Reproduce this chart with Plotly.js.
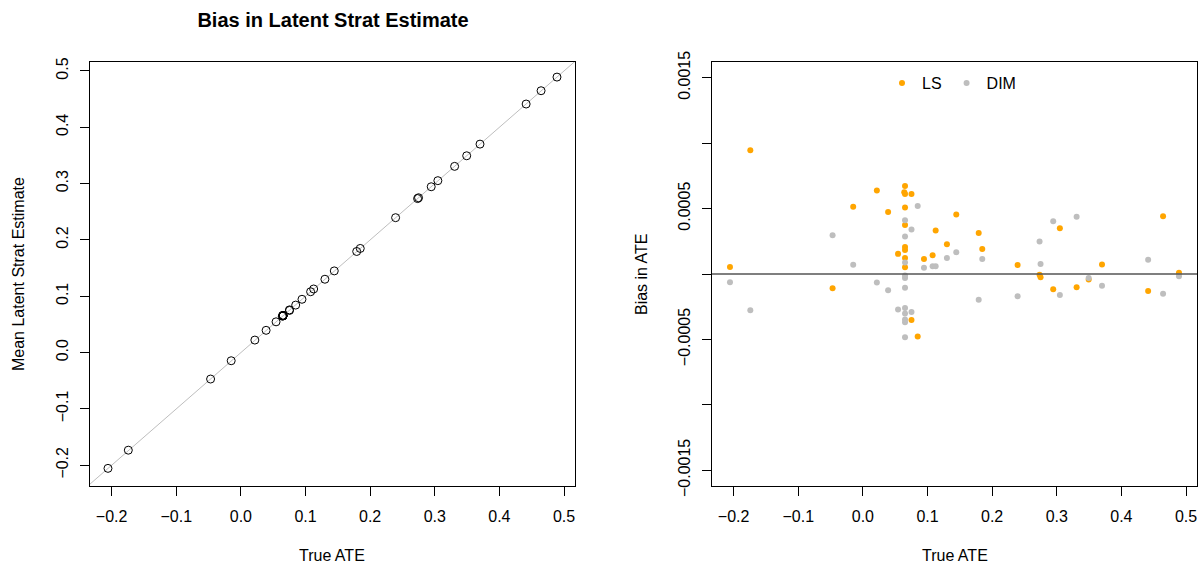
<!DOCTYPE html>
<html>
<head>
<meta charset="utf-8">
<script src="https://cdn.plot.ly/plotly-3.0.1.min.js"></script>
<style>html,body{margin:0;padding:0;background:#fff;}#chart{width:1204px;height:565px;}</style>
</head>
<body>
<div id="chart"></div>
<script>
// True ATE for each design (LS series)
const trueATE_LS = [-0.2057, -0.1742, -0.0469, -0.0150, 0.0216, 0.0390, 0.0652, 0.0640, 0.0652, 0.0752, 0.0652, 0.0652, 0.0652, 0.0652, 0.0544, 0.0652, 0.0652, 0.0752, 0.0848, 0.0945, 0.1079, 0.1126, 0.1300, 0.1445, 0.1792, 0.1847, 0.2394, 0.2734, 0.2749, 0.2945, 0.3048, 0.3307, 0.3494, 0.3700, 0.4414, 0.4645, 0.4891];
// Mean latent strat estimate (left panel)
const meanLSEstimate = [-0.2056, -0.1733, -0.0470, -0.0145, 0.0222, 0.0395, 0.0659, 0.0646, 0.0658, 0.0758, 0.0657, 0.0656, 0.0654, 0.0654, 0.0546, 0.0653, 0.0653, 0.0748, 0.0843, 0.0946, 0.1080, 0.1129, 0.1302, 0.1450, 0.1795, 0.1849, 0.2395, 0.2734, 0.2749, 0.2944, 0.3052, 0.3306, 0.3494, 0.3701, 0.4413, 0.4649, 0.4891];
// Bias of LS estimate (right panel, orange)
const biasLS = [0.000054, 0.000946, -0.000108, 0.000513, 0.000638, 0.000474, 0.000673, 0.000625, 0.000612, 0.000612, 0.000508, 0.000375, 0.000207, 0.000184, 0.000154, 0.000123, 0.000052, -0.000351, -0.000477, 0.000115, 0.000144, 0.000332, 0.000228, 0.000454, 0.000314, 0.000191, 0.000068, -0.000006, -0.000024, -0.000116, 0.000350, -0.000101, -0.000042, 0.000073, -0.000129, 0.000442, 0.000009];
// True ATE and bias of DIM estimate (right panel, gray)
const trueATE_DIM = [-0.2057, -0.1742, -0.0469, -0.0150, 0.0216, 0.0390, 0.0544, 0.0652, 0.0652, 0.0652, 0.0652, 0.0752, 0.0652, 0.0652, 0.0652, 0.0652, 0.0652, 0.0652, 0.0652, 0.0752, 0.0848, 0.0945, 0.1079, 0.1126, 0.1300, 0.1445, 0.1792, 0.1847, 0.2394, 0.2734, 0.2749, 0.2945, 0.3048, 0.3307, 0.3494, 0.3700, 0.4414, 0.4645, 0.4891];
const biasDIM = [-0.000063, -0.000277, 0.000296, 0.000070, -0.000065, -0.000124, -0.000271, -0.000259, -0.000302, -0.000348, -0.000368, -0.000290, -0.000483, -0.000106, -0.000030, -0.000011, 0.000088, 0.000286, 0.000411, 0.000340, 0.000520, 0.000047, 0.000060, 0.000060, 0.000123, 0.000167, -0.000196, 0.000114, -0.000170, 0.000248, 0.000076, 0.000403, -0.000160, 0.000437, -0.000030, -0.000089, 0.000109, -0.000150, -0.000017];

const xTicks = [-0.2, -0.1, 0.0, 0.1, 0.2, 0.3, 0.4, 0.5];
const biasTickVals = [-0.0015, -0.001, -0.0005, 0, 0.0005, 0.001, 0.0015];
const biasTickText = ['\u22120.0015', '', '\u22120.0005', '', '0.0005', '', '0.0015'];
const identityLine = [-1, 1];

const W = 1204, H = 565;
const FONT = 'Liberation Sans, Arial, sans-serif';
const px = v => v / W;
const py = v => 1 - v / H;

const axisCommon = {
  showgrid: false, zeroline: false, showline: true, mirror: true,
  linecolor: '#000', linewidth: 1, ticks: 'outside', ticklen: 9, tickwidth: 1,
  tickcolor: '#000', automargin: false,
  tickfont: {family: FONT, size: 16, color: '#000'}
};

const traces = [
  {x: identityLine, y: identityLine, mode: 'lines', line: {color: '#BEBEBE', width: 1},
   xaxis: 'x', yaxis: 'y', showlegend: false, hoverinfo: 'skip'},
  {x: trueATE_LS, y: meanLSEstimate, mode: 'markers', xaxis: 'x', yaxis: 'y', showlegend: false,
   marker: {symbol: 'circle-open', size: 8, color: '#000', line: {width: 1, color: '#000'}}},
  {x: trueATE_LS, y: biasLS, mode: 'markers', name: 'LS', xaxis: 'x2', yaxis: 'y2',
   marker: {symbol: 'circle', size: 6, color: '#FFA500'}},
  {x: trueATE_DIM, y: biasDIM, mode: 'markers', name: 'DIM', xaxis: 'x2', yaxis: 'y2',
   marker: {symbol: 'circle', size: 6, color: '#BEBEBE'}}
];

const layout = {
  width: W, height: H,
  margin: {l: 0, r: 0, t: 0, b: 0},
  paper_bgcolor: '#fff', plot_bgcolor: '#fff',
  font: {family: FONT, color: '#000'},
  title: {text: '<b>Bias in Latent Strat Estimate</b>', font: {family: FONT, size: 20, color: '#000'},
          x: px(333), xanchor: 'center', xref: 'paper', y: py(20), yanchor: 'middle', yref: 'container'},
  xaxis: Object.assign({}, axisCommon, {domain: [px(90), px(575)], range: [-0.2335, 0.517],
          tickvals: xTicks, tickformat: '.1f', anchor: 'y', ticklabelstandoff: 7}),
  yaxis: Object.assign({}, axisCommon, {domain: [py(486), py(62)], range: [-0.2369, 0.5159],
          tickvals: xTicks, tickformat: '.1f', tickangle: -90, anchor: 'x', ticklabelstandoff: 6}),
  xaxis2: Object.assign({}, axisCommon, {domain: [px(712), px(1197)], range: [-0.2335, 0.517],
          tickvals: xTicks, tickformat: '.1f', anchor: 'y2', ticklabelstandoff: 7}),
  yaxis2: Object.assign({}, axisCommon, {domain: [py(486), py(62)], range: [-0.00162, 0.00162],
          tickvals: biasTickVals, ticktext: biasTickText, tickangle: -90, anchor: 'x2', ticklabelstandoff: 6}),
  shapes: [
    {type: 'line', xref: 'x2 domain', yref: 'y2', x0: 0, x1: 1, y0: 0, y1: 0,
     line: {color: '#555', width: 1.3}}
  ],
  showlegend: true,
  legend: {orientation: 'h', x: px(882), xanchor: 'left', y: py(83), yanchor: 'middle',
           bgcolor: 'rgba(0,0,0,0)', font: {family: FONT, size: 16, color: '#000'},
           itemsizing: 'trace'},
  annotations: [
    {text: 'True ATE', xref: 'paper', yref: 'paper', x: px(332), y: py(555), showarrow: false,
     font: {family: FONT, size: 16}, xanchor: 'center', yanchor: 'middle'},
    {text: 'True ATE', xref: 'paper', yref: 'paper', x: px(955), y: py(555), showarrow: false,
     font: {family: FONT, size: 16}, xanchor: 'center', yanchor: 'middle'},
    {text: 'Mean Latent Strat Estimate', xref: 'paper', yref: 'paper', x: px(18), y: py(274), showarrow: false,
     textangle: -90, font: {family: FONT, size: 16}, xanchor: 'center', yanchor: 'middle'},
    {text: 'Bias in ATE', xref: 'paper', yref: 'paper', x: px(641), y: py(274), showarrow: false,
     textangle: -90, font: {family: FONT, size: 16}, xanchor: 'center', yanchor: 'middle'}
  ]
};

Plotly.newPlot('chart', traces, layout, {displayModeBar: false, staticPlot: true});
</script>
</body>
</html>
